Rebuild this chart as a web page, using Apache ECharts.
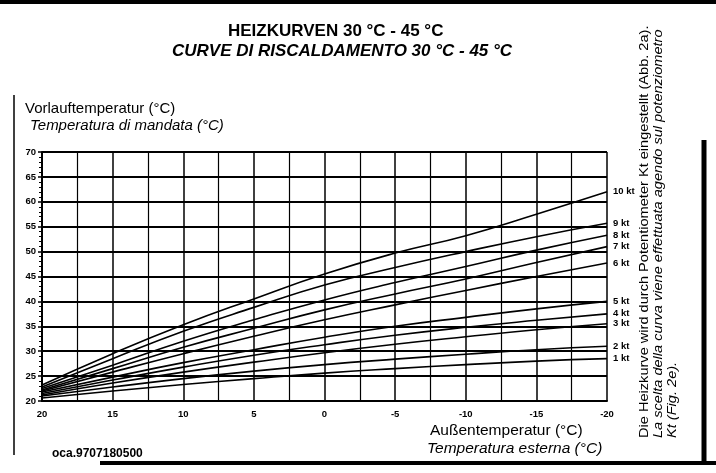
<!DOCTYPE html>
<html><head><meta charset="utf-8">
<script src="https://cdn.jsdelivr.net/npm/echarts@6/dist/echarts.min.js"></script>
<style>html,body{margin:0;padding:0;background:#fff}#c{width:716px;height:473px}</style>
</head><body><div id="c"></div>
<script>
const outsideTemps = [20, 15, 10, 5, 0, -5, -10, -15, -20];
const curveNames = ['1 kt','2 kt','3 kt','4 kt','5 kt','6 kt','7 kt','8 kt','9 kt','10 kt'];
const curve1  = [20.6, 22.0, 23.3, 24.5, 25.6, 26.5, 27.3, 28.0, 28.5];
const curve2  = [21.0, 22.8, 24.5, 26.0, 27.3, 28.4, 29.4, 30.3, 31.0];
const curve3  = [21.2, 23.6, 25.8, 27.8, 29.7, 31.4, 32.9, 34.3, 35.5];
const curve4  = [21.5, 24.2, 26.8, 29.2, 31.3, 33.2, 34.8, 36.2, 37.5];
const curve5  = [21.8, 24.8, 27.7, 30.3, 32.8, 35.0, 36.8, 38.5, 40.0];
const curve6  = [22.0, 25.8, 29.5, 33.0, 36.3, 39.3, 42.2, 45.0, 47.7];
const curve7  = [22.2, 26.5, 30.8, 34.6, 38.3, 41.5, 44.5, 47.8, 51.0];
const curve8  = [22.5, 27.2, 32.0, 36.3, 40.3, 43.8, 47.0, 50.3, 53.3];
const curve9  = [22.8, 28.5, 34.0, 38.8, 43.3, 46.8, 50.0, 53.0, 55.7];
const curve10 = [23.2, 29.5, 35.3, 40.5, 45.5, 49.7, 53.2, 57.5, 62.0];
const curves = [curve1,curve2,curve3,curve4,curve5,curve6,curve7,curve8,curve9,curve10];
const yTicks = {min: 20, max: 70, step: 5};
const xTicks = {min: -20, max: 20, step: 5};

const FONT = '"Liberation Sans", Arial, sans-serif';
const chart = echarts.init(document.getElementById('c'), null, {renderer: 'canvas'});

const series = curves.map((vals, i) => ({
  name: curveNames[i],
  type: 'line',
  smooth: true,
  symbol: 'none',
  data: outsideTemps.map((x, j) => [x, vals[j]]),
  lineStyle: {color: '#000', width: 1.6},
  endLabel: {show: true, formatter: '{a}', color: '#000', fontFamily: FONT, fontSize: 9.5, fontWeight: 'bold', align: 'left', offset: [14, 0]},
  z: 3
}));

chart.setOption({
  animation: false,
  backgroundColor: '#fff',
  grid: {left: 42, right: 109, top: 152, bottom: 72},
  xAxis: {
    type: 'value', inverse: true, min: xTicks.min, max: xTicks.max, interval: xTicks.step,
    axisLine: {show: true, onZero: false, lineStyle: {color: '#000', width: 2}},
    axisTick: {show: false},
    axisLabel: {color: '#000', fontFamily: FONT, fontSize: 9.5, fontWeight: 'bold', margin: 8},
    splitLine: {show: true, lineStyle: {color: '#000', width: 1.5}},
    minorTick: {show: false, splitNumber: 2},
    minorSplitLine: {show: true, lineStyle: {color: '#000', width: 1.2}}
  },
  yAxis: {
    type: 'value', position: 'left', min: yTicks.min, max: yTicks.max, interval: yTicks.step,
    axisLine: {show: true, onZero: false, lineStyle: {color: '#000', width: 2}},
    axisTick: {show: true, length: 4, lineStyle: {color: '#000', width: 1.5}},
    minorTick: {show: true, splitNumber: 5, length: 3, lineStyle: {color: '#000', width: 1}},
    axisLabel: {color: '#000', fontFamily: FONT, fontSize: 9.5, fontWeight: 'bold', margin: 6},
    splitLine: {show: true, lineStyle: {color: '#000', width: 2}}
  },
  series: series,
  graphic: [
    {type: 'text', left: 228, top: 23, style: {text: 'HEIZKURVEN 30 °C - 45 °C', font: 'bold 17px ' + FONT, fill: '#000'}},
    {type: 'text', left: 172, top: 43, style: {text: 'CURVE DI RISCALDAMENTO 30 °C - 45 °C', font: 'italic bold 17px ' + FONT, fill: '#000'}},
    {type: 'text', left: 25, top: 101, style: {text: 'Vorlauftemperatur (°C)', font: '15px ' + FONT, fill: '#000'}},
    {type: 'text', left: 30, top: 118, style: {text: 'Temperatura di mandata (°C)', font: 'italic 15px ' + FONT, fill: '#000'}},
    {type: 'text', left: 430, top: 423, style: {text: 'Außentemperatur (°C)', font: '15.5px ' + FONT, fill: '#000'}},
    {type: 'text', left: 427, top: 441, style: {text: 'Temperatura esterna (°C)', font: 'italic 15.5px ' + FONT, fill: '#000'}},
    {type: 'text', left: 52, top: 448, style: {text: 'oca.9707180500', font: 'bold 12px ' + FONT, fill: '#000'}},
    {type: 'text', x: 637, y: 438, rotation: Math.PI / 2, scaleX: 1.08, style: {text: 'Die Heizkurve wird durch Potentiometer Kt eingestellt (Abb. 2a).', font: '13.5px ' + FONT, fill: '#000', textVerticalAlign: 'top'}},
    {type: 'text', x: 651, y: 438, rotation: Math.PI / 2, scaleX: 1.08, style: {text: 'La scelta della curva viene effettuata agendo sul potenziometro', font: 'italic 13.5px ' + FONT, fill: '#000', textVerticalAlign: 'top'}},
    {type: 'text', x: 665, y: 438, rotation: Math.PI / 2, scaleX: 1.08, style: {text: 'Kt (Fig. 2e).', font: 'italic 13.5px ' + FONT, fill: '#000', textVerticalAlign: 'top'}},
    {type: 'line', shape: {x1: 0, y1: 2, x2: 716, y2: 2}, style: {stroke: '#000', lineWidth: 4}},
    {type: 'line', shape: {x1: 100, y1: 463, x2: 716, y2: 463}, style: {stroke: '#000', lineWidth: 4}},
    {type: 'line', shape: {x1: 14, y1: 95, x2: 14, y2: 455}, style: {stroke: '#000', lineWidth: 1.5}},
    {type: 'line', shape: {x1: 704, y1: 140, x2: 704, y2: 462}, style: {stroke: '#000', lineWidth: 5}}
  ]
});
</script></body></html>
